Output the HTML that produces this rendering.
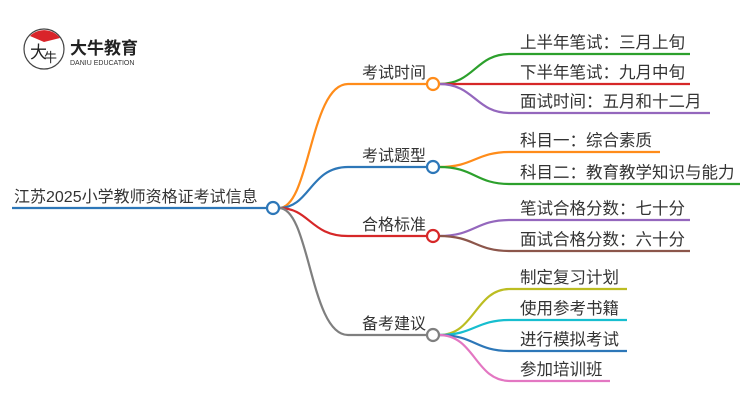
<!DOCTYPE html>
<html><head><meta charset="utf-8"><style>
body{margin:0;background:#fff;}
svg{display:block;font-family:"Liberation Sans","Noto Sans CJK SC",sans-serif;}
</style></head><body>
<svg width="750" height="410" viewBox="0 0 750 410" xmlns="http://www.w3.org/2000/svg">
<g fill="none" stroke-width="2.2">
<circle cx="44" cy="49" r="20" stroke="#444" stroke-width="1.2"/>
<path d="M30 36 A20 20 0 0 1 60 38 L44 42 Z" fill="#d9242a" stroke="none"/>
<line x1="12" y1="208" x2="267" y2="208" stroke="#2d77b8"/>
<path d="M279 208 C310 208 310 84 348 84 L427 84" stroke="#ff8c1a"/>
<path d="M279 208 C310 208 310 167 348 167 L427 167" stroke="#2d77b8"/>
<path d="M279 208 C310 208 310 236 348 236 L427 236" stroke="#d62728"/>
<path d="M279 208 C310 208 310 335 348 335 L427 335" stroke="#7f7f7f"/>
<path d="M439 84 C475 84 475 54 510 54 L690 54" stroke="#2ca02c"/>
<path d="M439 84 L690 84" stroke="#d62728"/>
<path d="M439 84 C475 84 475 113 510 113 L710 113" stroke="#9467bd"/>
<path d="M439 167 C475 167 475 152 510 152 L660 152" stroke="#ff8c1a"/>
<path d="M439 167 C475 167 475 184 510 184 L740 184" stroke="#2ca02c"/>
<path d="M439 236 C475 236 475 220 510 220 L690 220" stroke="#9467bd"/>
<path d="M439 236 C475 236 475 251 510 251 L690 251" stroke="#8c564b"/>
<path d="M439 335 C475 335 475 289 510 289 L627 289" stroke="#bcbd22"/>
<path d="M439 335 C475 335 475 320 510 320 L627 320" stroke="#17becf"/>
<path d="M439 335 C475 335 475 351 510 351 L627 351" stroke="#2d77b8"/>
<path d="M439 335 C475 335 475 381 510 381 L610 381" stroke="#e377c2"/>
<circle cx="273" cy="208" r="6" stroke="#2d77b8" fill="#fff"/>
<circle cx="433" cy="84" r="6" stroke="#ff8c1a" fill="#fff"/>
<circle cx="433" cy="167" r="6" stroke="#2d77b8" fill="#fff"/>
<circle cx="433" cy="236" r="6" stroke="#d62728" fill="#fff"/>
<circle cx="433" cy="335" r="6" stroke="#7f7f7f" fill="#fff"/>
</g>
<g fill="#333">
<text x="30" y="58" font-size="17" fill="#222">大</text>
<text x="44" y="62" font-size="13" fill="#222">牛</text>
<text x="70" y="54" font-size="17" font-weight="bold" fill="#222">大牛教育</text>
<text x="70" y="65" font-size="7" fill="#333">DANIU EDUCATION</text>
<text x="14" y="202" font-size="16">江苏2025小学教师资格证考试信息</text>
<text x="362" y="78" font-size="16">考试时间</text>
<text x="362" y="161" font-size="16">考试题型</text>
<text x="362" y="230" font-size="16">合格标准</text>
<text x="362" y="329" font-size="16">备考建议</text>
<g font-size="16.5">
<text x="520" y="48">上半年笔试：三月上旬</text>
<text x="520" y="78">下半年笔试：九月中旬</text>
<text x="520" y="107">面试时间：五月和十二月</text>
<text x="520" y="146">科目一：综合素质</text>
<text x="520" y="178">科目二：教育教学知识与能力</text>
<text x="520" y="214">笔试合格分数：七十分</text>
<text x="520" y="245">面试合格分数：六十分</text>
<text x="520" y="283">制定复习计划</text>
<text x="520" y="314">使用参考书籍</text>
<text x="520" y="345">进行模拟考试</text>
<text x="520" y="375">参加培训班</text>
</g>
</g>
</svg>
</body></html>
